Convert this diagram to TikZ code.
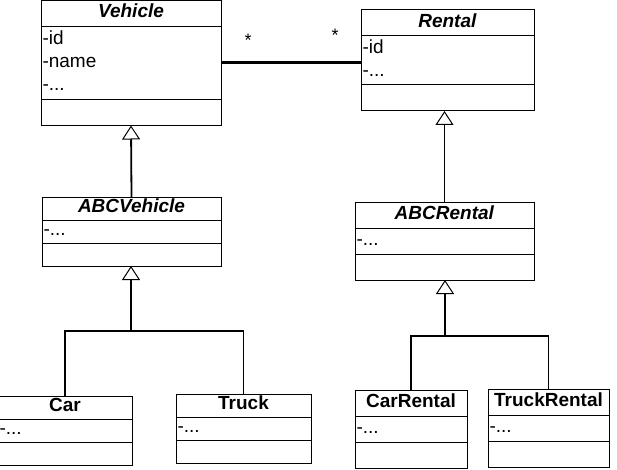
\documentclass[tikz,border=0pt]{standalone}
\usepackage{fontspec}
\setmainfont{Liberation Sans}
\usetikzlibrary{positioning,arrows.meta}
\newcommand\cstrut{\rule[-5pt]{0pt}{18pt}}
\tikzset{
  cbox/.style={draw, line width=1pt, inner xsep=1.5pt, inner ysep=0pt, outer sep=0pt,
    font=\fontsize{19}{23}\selectfont, minimum height=26pt},
  ctitle/.style={cbox, align=center},
  cattr/.style={cbox, align=left},
  compact/.style={minimum height=23pt},
  inherit/.style={-{Triangle[open,length=14pt,width=18pt,line width=1pt]}, line width=1.8pt},
  branch/.style={line width=1.8pt},
  assoc/.style={line width=3pt},
  mult/.style={anchor=base, inner sep=0pt, font=\fontsize{18}{23}\selectfont},
}
\begin{document}
\begin{tikzpicture}[x=1pt,y=-1pt]
\useasboundingbox (0,0) rectangle (617,470);
% top classes
\node (veh) [ctitle,text width=177pt,anchor=north west] at (41,0.5) {\cstrut\textbf{\textit{Vehicle}}};
\node (veha) [cattr,text width=177pt,minimum height=73pt,below=0pt of veh] {\cstrut-id\\\cstrut-name\\\cstrut-...};
\node (vehm) [cattr,text width=177pt,below=0pt of veha] {\cstrut};

\node (rent) [ctitle,text width=170pt,anchor=north west] at (361,10) {\cstrut\textbf{\textit{Rental}}};
\node (renta) [cattr,text width=170pt,minimum height=49pt,below=0pt of rent] {\cstrut-id\\\cstrut-...};
\node (rentm) [cattr,text width=170pt,below=0pt of renta] {\cstrut};

% abstract classes
\node (abcv) [ctitle,compact,text width=176pt,anchor=north west] at (42,197) {\cstrut\textbf{\textit{ABCVehicle}}};
\node (abcva) [cattr,compact,text width=176pt,below=0pt of abcv] {\cstrut-...};
\node (abcvm) [cattr,compact,text width=176pt,below=0pt of abcva] {\cstrut};

\node (abcr) [ctitle,text width=176pt,anchor=north west] at (355,202) {\cstrut\textbf{\textit{ABCRental}}};
\node (abcra) [cattr,text width=176pt,below=0pt of abcr] {\cstrut-...};
\node (abcrm) [cattr,text width=176pt,below=0pt of abcra] {\cstrut};

% concrete classes
\node (car) [ctitle,compact,text width=131pt,anchor=north west] at (-2,396) {\cstrut\textbf{Car}};
\node (cara) [cattr,compact,text width=131pt,below=0pt of car] {\cstrut-...};
\node (carm) [cattr,compact,text width=131pt,below=0pt of cara] {\cstrut};

\node (truck) [ctitle,compact,text width=132pt,anchor=north west] at (176,394) {\cstrut\textbf{Truck}};
\node (trucka) [cattr,compact,text width=132pt,below=0pt of truck] {\cstrut-...};
\node (truckm) [cattr,compact,text width=132pt,below=0pt of trucka] {\cstrut};

\node (carr) [ctitle,text width=109pt,anchor=north west] at (355,390) {\cstrut\textbf{CarRental}};
\node (carra) [cattr,text width=109pt,below=0pt of carr] {\cstrut-...};
\node (carrm) [cattr,text width=109pt,below=0pt of carra] {\cstrut};

\node (truckr) [ctitle,text width=118pt,anchor=north west] at (488,389) {\cstrut\textbf{TruckRental}};
\node (truckra) [cattr,text width=118pt,below=0pt of truckr] {\cstrut-...};
\node (truckrm) [cattr,text width=118pt,below=0pt of truckra] {\cstrut};

% association
\draw [assoc] (veha.east) -- (veha.east -| renta.west);
\node (mv) [mult] at (248,47) {*};
\node (mr) [mult] at (335,42) {*};

% generalisations
\coordinate (jv) at (131,331);
\coordinate (jr) at (445,336);
\draw [inherit] (abcv.north) -- (vehm.south);
\draw [inherit] (abcr.north) -- (abcr.north |- rentm.south);
\draw [inherit] (jv) -- (jv |- abcvm.south);
\draw [branch] (car.north) |- (jv) -| (truck.north);
\draw [inherit] (jr) -- (jr |- abcrm.south);
\draw [branch] (carr.north) |- (jr) -| (truckr.north);
\end{tikzpicture}
\end{document}
